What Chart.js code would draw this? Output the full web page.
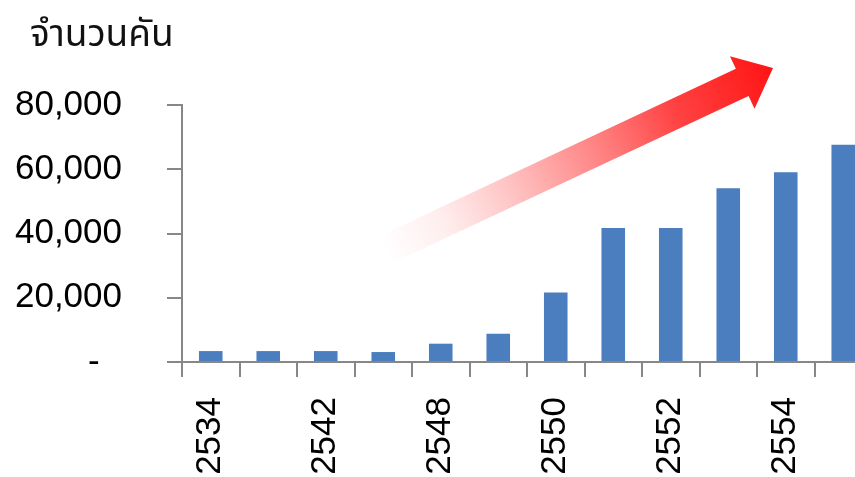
<!DOCTYPE html>
<html>
<head>
<meta charset="utf-8">
<script src="https://cdn.jsdelivr.net/npm/chart.js@4"></script>
<style>
html,body{margin:0;padding:0;overflow:hidden;background:#fff;}
#wrap{width:855px;height:477px;position:relative;overflow:hidden;}
canvas{display:block;}
</style>
</head>
<body>
<div id="wrap"><canvas id="c" width="880" height="477" style="width:880px;height:477px"></canvas></div>
<script>
const categories = ['2534','2541','2542','2547','2548','2549','2550','2551','2552','2553','2554','2555'];
const vehicles = [3400, 3400, 3400, 3100, 5700, 8800, 21600, 41700, 41700, 54100, 59100, 67600];
const yTicks = [0, 20000, 40000, 60000, 80000];
const titleText = 'จำนวนคัน';

const AXIS = '#878787';
const FONT = '"Liberation Sans", Arial, sans-serif';

const decor = {
  id: 'decor',
  afterDraw(chart) {
    const ctx = chart.ctx;
    ctx.save();
    ctx.fillStyle = '#111';
    ctx.font = '37px Tahoma, "Noto Sans Thai", "DejaVu Sans", sans-serif';
    ctx.textBaseline = 'alphabetic';
    ctx.textAlign = 'left';
    ctx.fillText(titleText, 30, 46);
    ctx.restore();

    const tail = {x: 385, y: 250}, tip = {x: 773, y: 68};
    const dx = tip.x - tail.x, dy = tip.y - tail.y;
    const L = Math.hypot(dx, dy);
    const ang = Math.atan2(dy, dx);
    const headLen = 34, shaftHalf = 15, headHalf = 29;
    ctx.save();
    ctx.translate(tail.x, tail.y);
    ctx.rotate(ang);
    const g = ctx.createLinearGradient(0, 0, L, 0);
    g.addColorStop(0, 'rgba(255,120,120,0)');
    g.addColorStop(0.15, 'rgba(255,110,110,0.12)');
    g.addColorStop(0.45, 'rgba(255,80,80,0.55)');
    g.addColorStop(0.75, 'rgba(255,45,45,0.9)');
    g.addColorStop(1, 'rgba(255,20,20,1)');
    ctx.fillStyle = g;
    ctx.beginPath();
    ctx.moveTo(0, -shaftHalf);
    ctx.lineTo(L - headLen, -shaftHalf);
    ctx.lineTo(L - headLen, -headHalf);
    ctx.lineTo(L, 0);
    ctx.lineTo(L - headLen, headHalf);
    ctx.lineTo(L - headLen, shaftHalf);
    ctx.lineTo(0, shaftHalf);
    ctx.closePath();
    ctx.fill();
    ctx.restore();
  }
};

new Chart(document.getElementById('c'), {
  type: 'bar',
  data: {
    labels: categories,
    datasets: [{
      data: vehicles,
      backgroundColor: '#4A7EBF',
      borderWidth: 0,
      categoryPercentage: 1,
      barPercentage: 0.41
    }]
  },
  options: {
    responsive: false,
    maintainAspectRatio: false,
    animation: false,
    devicePixelRatio: 1,
    layout: { padding: { top: 105, right: 8, bottom: 0, left: 0 } },
    plugins: { legend: { display: false }, tooltip: { enabled: false }, title: { display: false } },
    scales: {
      x: {
        afterFit(s) { s.height = 115; s.paddingLeft = 0; s.paddingRight = 0; },
        border: { display: true, color: AXIS, width: 2 },
        grid: { display: true, drawOnChartArea: false, drawTicks: true, tickLength: 15, color: AXIS, lineWidth: 2, offset: true },
        ticks: {
          autoSkip: false,
          maxRotation: 90, minRotation: 90,
          padding: 20,
          color: '#000',
          font: { family: FONT, size: 35 },
          callback(v, i) { return i % 2 === 0 ? categories[i] : ''; }
        }
      },
      y: {
        min: 0, max: 80000,
        afterFit(s) { s.width = 182; },
        afterBuildTicks(s) { s.ticks = yTicks.map(v => ({ value: v })); },
        border: { display: true, color: AXIS, width: 2 },
        grid: { display: true, drawOnChartArea: false, drawTicks: true, tickLength: 15, color: AXIS, lineWidth: 2 },
        ticks: {
          padding: 45,
          color: '#000',
          font: { family: FONT, size: 35 },
          callback(v) { return v === 0 ? '-  \u200A' : v.toLocaleString('en-US'); }
        }
      }
    }
  },
  plugins: [decor]
});
</script>
</body>
</html>
